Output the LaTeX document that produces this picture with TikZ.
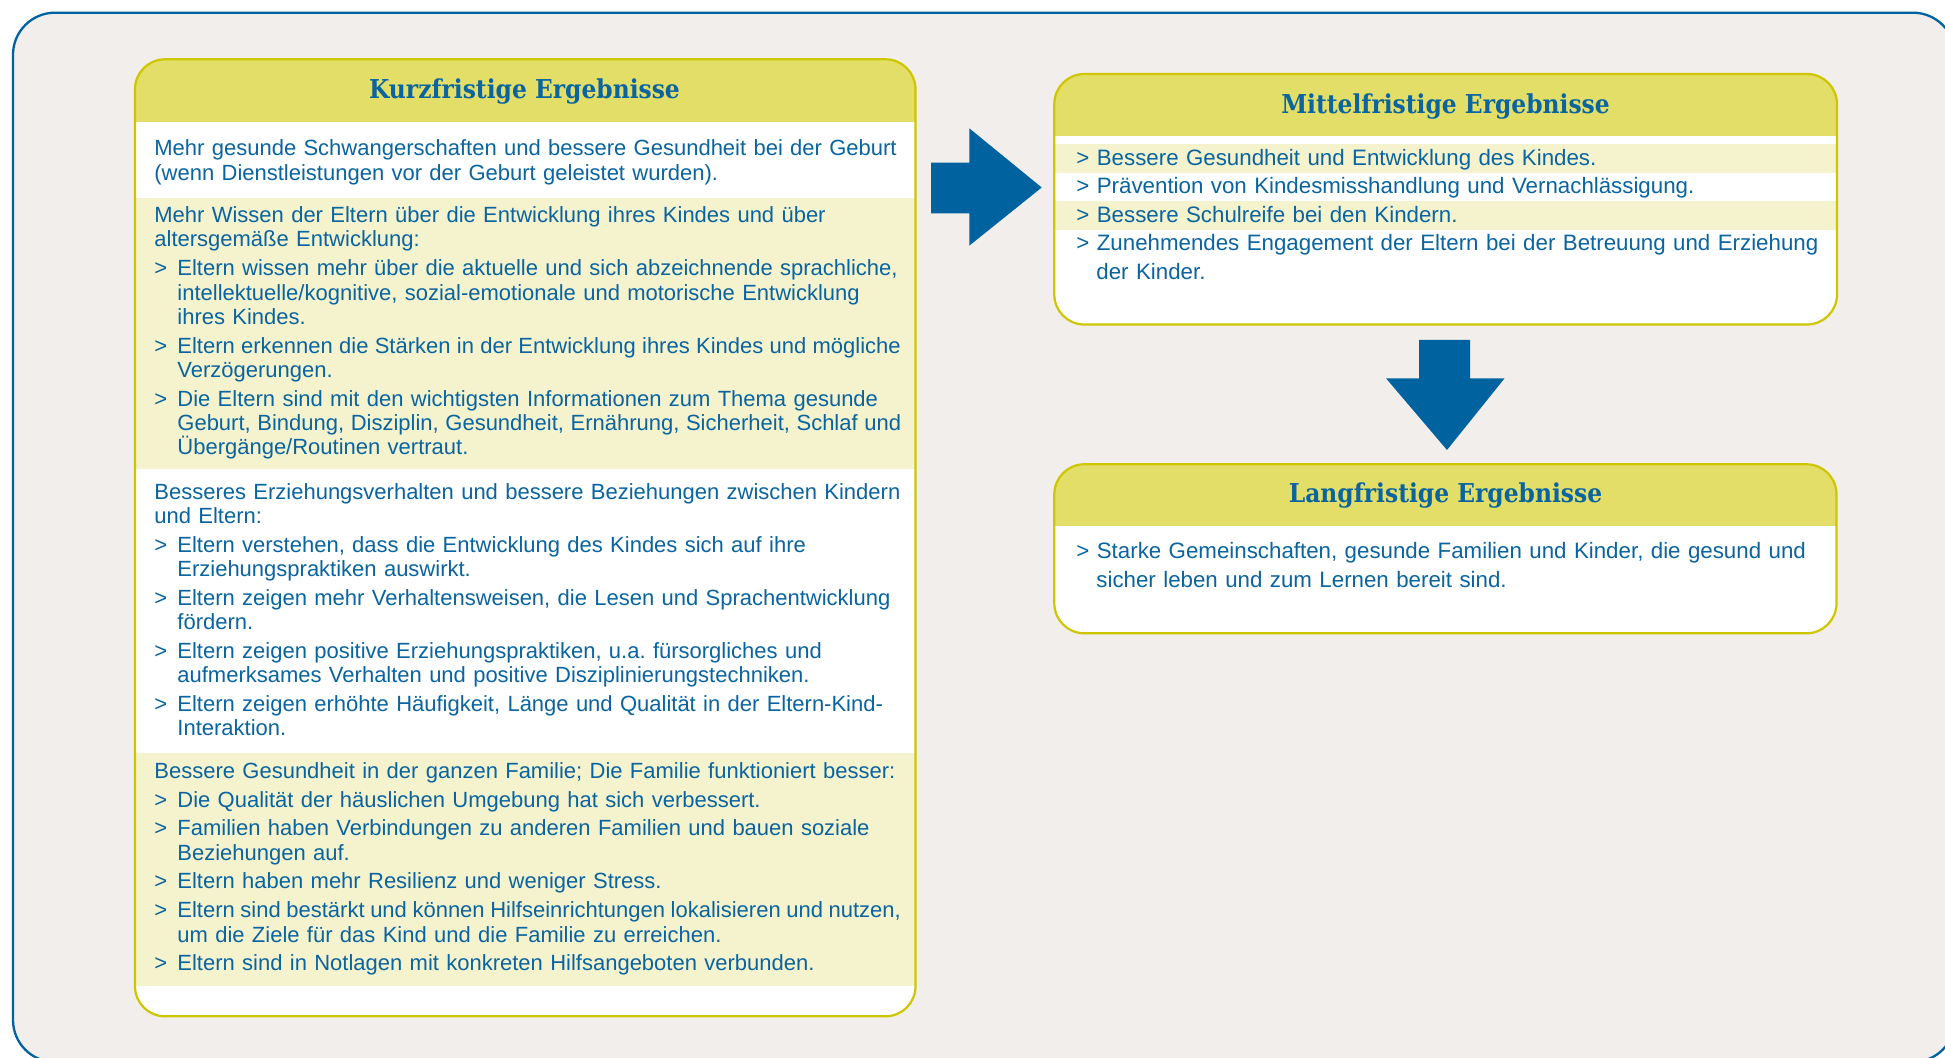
\documentclass[tikz,border=0pt]{standalone}
\usepackage{fontspec}
\setmainfont{Liberation Sans}
\newfontfamily\headfont{DejaVu Serif Condensed Bold}
\usetikzlibrary{calc}

\definecolor{framebg}{RGB}{241,238,235}
\definecolor{frameblue}{RGB}{0,99,160}
\definecolor{boxline}{RGB}{206,198,0}
\definecolor{headfill}{RGB}{226,222,104}
\definecolor{creamrow}{RGB}{245,242,206}
\definecolor{textblue}{RGB}{10,100,160}
\definecolor{arrowblue}{RGB}{0,99,160}

% list marks inside the boxes
\newcommand{\gtmark}{\makebox[11.5pt][l]{>}}
\newcommand{\gtind}{\hspace*{11.5pt}}
\newcommand{\gtgap}{2.25pt}
% a line set with narrower word spaces
\newcommand{\squeeze}[2]{{\spaceskip=#1\relax #2}}

\tikzset{
	boxtitle/.style={anchor=base, inner sep=0pt, text=textblue,
		font=\headfont\fontsize{13}{15}\selectfont},
	boxtext/.style={anchor=base west, inner sep=0pt, text=textblue,
		align=left, text width=420pt, font=\fontsize{11}{12.15}\selectfont},
	rowtext/.style={boxtext, font=\fontsize{11.15}{14.2}\selectfont},
	boxborder/.style={draw=boxline, line width=1.1pt, rounded corners=15pt},
}

\begin{document}
\begin{tikzpicture}[x=0.5pt,y=-0.5pt]
	\useasboundingbox (0,0) rectangle (1945,1058);
	\clip (0,0) rectangle (1945,1058);
	\fill[white] (0,0) rectangle (1945,1058);

	% the big grey frame round everything
	\draw[frameblue, line width=1.15pt, fill=framebg, rounded corners=21pt]
		(13,12.7) rectangle (1955,1062);

	% define the corners of the three boxes
	\coordinate (kurzNW) at (135,59.3);
	\coordinate (kurzSE) at (915.5,1016.3);
	\coordinate (mittelNW) at (1054.3,74);
	\coordinate (mittelSE) at (1837,324.5);
	\coordinate (langNW) at (1054.3,464.3);
	\coordinate (langSE) at (1836.5,633.3);

	% short term box: header, white and cream bands
	\begin{scope}
		\clip[rounded corners=15pt] (kurzNW) rectangle (kurzSE);
		\fill[white] (kurzNW) rectangle (kurzSE);
		\fill[headfill] (kurzNW) rectangle (915.5,121.7);
		\fill[creamrow] (135,197.7) rectangle (915.5,469);
		\fill[creamrow] (135,752.7) rectangle (915.5,985.7);
	\end{scope}
	\draw[boxborder] (kurzNW) rectangle (kurzSE);

	% mid term box
	\begin{scope}
		\clip[rounded corners=15pt] (mittelNW) rectangle (mittelSE);
		\fill[white] (mittelNW) rectangle (mittelSE);
		\fill[headfill] (mittelNW) rectangle (1837,136);
		\fill[creamrow] (1054.3,144.3) rectangle (1837,172.7);
		\fill[creamrow] (1054.3,201) rectangle (1837,230);
	\end{scope}
	\draw[boxborder] (mittelNW) rectangle (mittelSE);

	% long term box
	\begin{scope}
		\clip[rounded corners=15pt] (langNW) rectangle (langSE);
		\fill[white] (langNW) rectangle (langSE);
		\fill[headfill] (langNW) rectangle (1836.5,525.7);
	\end{scope}
	\draw[boxborder] (langNW) rectangle (langSE);

	% titles
	\node[boxtitle] (kurzTitle) at (524.5,98.3) {Kurzfristige Ergebnisse};
	\node[boxtitle] (mittelTitle) at (1445.5,113.3) {Mittelfristige Ergebnisse};
	\node[boxtitle] (langTitle) at (1445.5,502.7) {Langfristige Ergebnisse};

	% short term results, one node per band
	\node[boxtext] (kurzA) at (154,156) {
		Mehr gesunde Schwangerschaften und bessere Gesundheit bei der Geburt\\
		(wenn Dienstleistungen vor der Geburt geleistet wurden).
	};
	\node[boxtext] (kurzB) at (154,222.7) {
		Mehr Wissen der Eltern über die Entwicklung ihres Kindes und über\\
		altersgemäße Entwicklung:\\[\gtgap]
		\gtmark Eltern wissen mehr über die aktuelle und sich abzeichnende sprachliche,\\
		\gtind intellektuelle/kognitive, sozial-emotionale und motorische Entwicklung\\
		\gtind ihres Kindes.\\[\gtgap]
		\gtmark \squeeze{3.15pt}{Eltern erkennen die Stärken in der Entwicklung ihres Kindes und mögliche}\\
		\gtind Verzögerungen.\\[\gtgap]
		\gtmark Die Eltern sind mit den wichtigsten Informationen zum Thema gesunde\\
		\gtind \squeeze{3.3pt}{Geburt, Bindung, Disziplin, Gesundheit, Ernährung, Sicherheit, Schlaf und}\\
		\gtind Übergänge/Routinen vertraut.
	};
	\node[boxtext] (kurzC) at (154,499.3) {
		Besseres Erziehungsverhalten und bessere Beziehungen zwischen Kindern\\
		und Eltern:\\[\gtgap]
		\gtmark Eltern verstehen, dass die Entwicklung des Kindes sich auf ihre\\
		\gtind Erziehungspraktiken auswirkt.\\[\gtgap]
		\gtmark Eltern zeigen mehr Verhaltensweisen, die Lesen und Sprachentwicklung\\
		\gtind fördern.\\[\gtgap]
		\gtmark Eltern zeigen positive Erziehungspraktiken, u.a.\ fürsorgliches und\\
		\gtind aufmerksames Verhalten und positive Disziplinierungstechniken.\\[\gtgap]
		\gtmark Eltern zeigen erhöhte Häufigkeit, Länge und Qualität in der Eltern-Kind-\\
		\gtind Interaktion.
	};
	\node[boxtext] (kurzD) at (154,778.3) {
		Bessere Gesundheit in der ganzen Familie; Die Familie funktioniert besser:\\[\gtgap]
		\gtmark Die Qualität der häuslichen Umgebung hat sich verbessert.\\[\gtgap]
		\gtmark Familien haben Verbindungen zu anderen Familien und bauen soziale\\
		\gtind Beziehungen auf.\\[\gtgap]
		\gtmark Eltern haben mehr Resilienz und weniger Stress.\\[\gtgap]
		\gtmark \squeeze{2.8pt}{Eltern sind bestärkt und können Hilfseinrichtungen lokalisieren und nutzen,}\\
		\gtind um die Ziele für das Kind und die Familie zu erreichen.\\[\gtgap]
		\gtmark Eltern sind in Notlagen mit konkreten Hilfsangeboten verbunden.
	};

	% mid and long term results
	\node[rowtext] (mittelList) at (1076,165.5) {
		> Bessere Gesundheit und Entwicklung des Kindes.\\
		> Prävention von Kindesmisshandlung und Vernachlässigung.\\
		> Bessere Schulreife bei den Kindern.\\
		> Zunehmendes Engagement der Eltern bei der Betreuung und Erziehung\\
		\hspace*{10pt}der Kinder.
	};
	\node[rowtext] (langList) at (1076,558.7) {
		> Starke Gemeinschaften, gesunde Familien und Kinder, die gesund und\\
		\hspace*{10pt}sicher leben und zum Lernen bereit sind.
	};

	% block arrow from short to mid term
	\coordinate (rTail) at (931,187.5);
	\coordinate (rTip) at (1041.7,187.5);
	\fill[arrowblue] ($(rTail)+(0,-24.8)$) -- (969.3,162.7) -- (969.3,128.3) -- (rTip)
		-- (969.3,245.7) -- (969.3,213.3) -- ($(rTail)+(0,25.8)$) -- cycle;

	% block arrow from mid to long term
	\coordinate (dTail) at (1444.5,340);
	\coordinate (dTip) at (1447,450);
	\fill[arrowblue] ($(dTail)+(-25.5,0)$) -- ($(dTail)+(25.5,0)$) -- (1470,378.3)
		-- (1504.6,378.3) -- (dTip) -- (1386,378.3) -- (1419,378.3) -- cycle;
\end{tikzpicture}
\end{document}
